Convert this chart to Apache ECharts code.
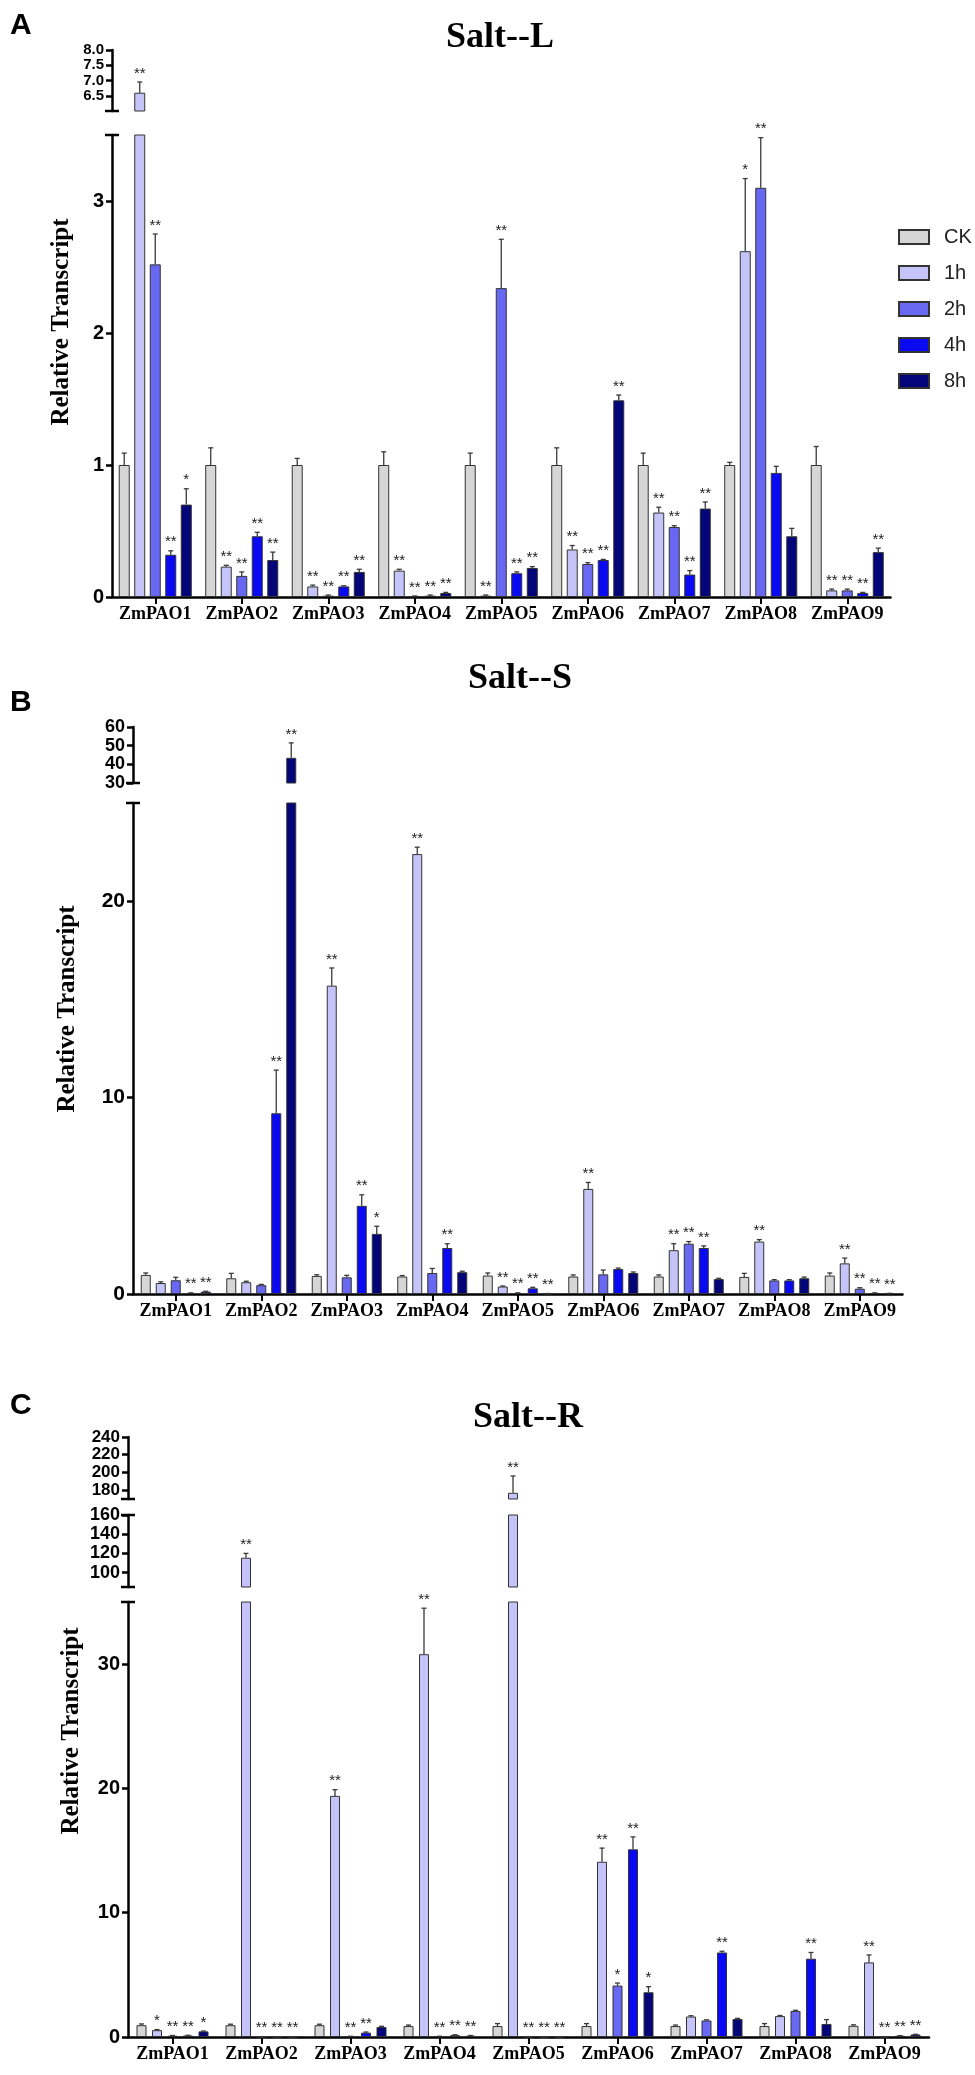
<!DOCTYPE html>
<html>
<head>
<meta charset="utf-8">
<script src="https://cdn.jsdelivr.net/npm/echarts@6/dist/echarts.min.js"></script>
<style>
html, body { margin: 0; padding: 0; background: #fff; }
#chart { width: 975px; height: 2075px; }
</style>
</head>
<body>
<div id="chart"></div>
<script>
var genes = ['ZmPAO1', 'ZmPAO2', 'ZmPAO3', 'ZmPAO4', 'ZmPAO5', 'ZmPAO6', 'ZmPAO7', 'ZmPAO8', 'ZmPAO9'];
var times = ['CK', '1h', '2h', '4h', '8h'];
var colors = ['#d6d6d6', '#c4c4f8', '#6868f2', '#0a0af2', '#05057a'];

// Salt--L
var lCK = [1.0, 1.0, 1.0, 1.0, 1.0, 1.0, 1.0, 1.0, 1.0];
var l1h = [6.6, 0.23, 0.08, 0.2, 0.01, 0.36, 0.64, 2.62, 0.05];
var l2h = [2.52, 0.16, 0.01, 0.005, 2.34, 0.25, 0.53, 3.1, 0.05];
var l4h = [0.32, 0.46, 0.08, 0.01, 0.18, 0.28, 0.17, 0.94, 0.03];
var l8h = [0.70, 0.28, 0.19, 0.03, 0.22, 1.49, 0.67, 0.46, 0.34];
var lCKErr = [0.09, 0.13, 0.05, 0.10, 0.09, 0.13, 0.09, 0.02, 0.14];
var l1hErr = [0.35, 0.01, 0.01, 0.01, 0.005, 0.03, 0.04, 0.55, 0.01];
var l2hErr = [0.23, 0.03, 0.005, 0.003, 0.37, 0.01, 0.01, 0.38, 0.01];
var l4hErr = [0.03, 0.03, 0.005, 0.005, 0.01, 0.005, 0.03, 0.05, 0.005];
var l8hErr = [0.12, 0.06, 0.02, 0.005, 0.01, 0.04, 0.05, 0.06, 0.03];
var lCKStar = [0, 0, 0, 0, 0, 0, 0, 0, 0];
var l1hStar = [2, 2, 2, 2, 2, 2, 2, 1, 2];
var l2hStar = [2, 2, 2, 2, 2, 2, 2, 2, 2];
var l4hStar = [2, 2, 2, 2, 2, 2, 2, 0, 2];
var l8hStar = [1, 2, 2, 2, 2, 2, 2, 0, 2];

// Salt--S
var sCK = [0.97, 0.8, 0.92, 0.89, 0.94, 0.89, 0.89, 0.87, 0.94];
var s1h = [0.56, 0.6, 15.7, 22.4, 0.38, 5.35, 2.23, 2.67, 1.56];
var s2h = [0.7, 0.45, 0.85, 1.07, 0.05, 1.0, 2.56, 0.69, 0.27];
var s4h = [0.05, 9.2, 4.49, 2.34, 0.29, 1.27, 2.34, 0.69, 0.05];
var s8h = [0.12, 43.5, 3.06, 1.11, 0.02, 1.07, 0.76, 0.8, 0.03];
var sCKErr = [0.1, 0.25, 0.06, 0.05, 0.13, 0.08, 0.08, 0.18, 0.13];
var s1hErr = [0.06, 0.05, 0.9, 0.35, 0.03, 0.33, 0.33, 0.1, 0.27];
var s2hErr = [0.15, 0.04, 0.1, 0.23, 0.01, 0.22, 0.11, 0.04, 0.05];
var s4hErr = [0.01, 2.2, 0.56, 0.22, 0.05, 0.05, 0.11, 0.04, 0.01];
var s8hErr = [0.02, 8, 0.39, 0.05, 0.005, 0.05, 0.04, 0.06, 0.005];
var sCKStar = [0, 0, 0, 0, 0, 0, 0, 0, 0];
var s1hStar = [0, 0, 2, 2, 2, 2, 2, 2, 2];
var s2hStar = [0, 0, 0, 0, 2, 0, 2, 0, 2];
var s4hStar = [2, 2, 2, 2, 2, 0, 2, 0, 2];
var s8hStar = [2, 2, 1, 0, 2, 0, 0, 0, 2];

// Salt--R
var rCK = [0.95, 0.95, 0.95, 0.88, 0.88, 0.88, 0.88, 0.88, 0.9];
var r1h = [0.55, 115.5, 19.4, 30.8, 177, 14.1, 1.65, 1.68, 6.0];
var r2h = [0.1, 0.01, 0.05, 0.05, 0.01, 4.14, 1.33, 2.1, 0.02];
var r4h = [0.12, 0.01, 0.35, 0.15, 0.01, 15.1, 6.8, 6.3, 0.1];
var r8h = [0.45, 0.01, 0.8, 0.1, 0.01, 3.6, 1.45, 1.05, 0.2];
var rCKErr = [0.1, 0.08, 0.08, 0.08, 0.2, 0.2, 0.08, 0.2, 0.08];
var r1hErr = [0.05, 4.5, 0.5, 3.7, 19, 1.1, 0.06, 0.05, 0.6];
var r2hErr = [0.02, 0.005, 0.01, 0.01, 0.005, 0.2, 0.05, 0.05, 0.005];
var r4hErr = [0.02, 0.005, 0.05, 0.03, 0.005, 1.0, 0.1, 0.5, 0.01];
var r8hErr = [0.03, 0.005, 0.06, 0.02, 0.005, 0.45, 0.05, 0.35, 0.02];
var rCKStar = [0, 0, 0, 0, 0, 0, 0, 0, 0];
var r1hStar = [1, 2, 2, 2, 2, 2, 0, 0, 2];
var r2hStar = [2, 2, 2, 2, 2, 1, 0, 0, 2];
var r4hStar = [2, 2, 2, 2, 2, 2, 2, 2, 2];
var r8hStar = [1, 2, 0, 2, 2, 1, 0, 0, 2];

var panels = [
	{
		title: 'Salt--L', titleX: 500, titleY: 38, letter: 'A', letterY: 26, nameX: 62, nameY: 322,
		left: 112, width: 778.5, barWidth: 11, barGap: '41%',
		values: [lCK, l1h, l2h, l4h, l8h],
		errors: [lCKErr, l1hErr, l2hErr, l4hErr, l8hErr],
		stars: [lCKStar, l1hStar, l2hStar, l4hStar, l8hStar],
		segs: [
			{ min: 6, max: 8, top: 50, bottom: 111, ticks: [6.5, 7, 7.5, 8], digits: 1, size: 15, lh: 13 },
			{ min: 0, max: 3.5, top: 135, bottom: 597, ticks: [0, 1, 2, 3], digits: 0, size: 20, lh: 20 }
		]
	},
	{
		title: 'Salt--S', titleX: 520, titleY: 679, letter: 'B', letterY: 703, nameX: 68, nameY: 1009,
		left: 133, width: 769.5, barWidth: 10, barGap: '50%',
		values: [sCK, s1h, s2h, s4h, s8h],
		errors: [sCKErr, s1hErr, s2hErr, s4hErr, s8hErr],
		stars: [sCKStar, s1hStar, s2hStar, s4hStar, s8hStar],
		segs: [
			{ min: 30, max: 60, top: 727, bottom: 783, ticks: [30, 40, 50, 60], digits: 0, size: 18, lh: 16 },
			{ min: 0, max: 25, top: 803, bottom: 1294, ticks: [0, 10, 20], digits: 0, size: 21, lh: 21 }
		]
	},
	{
		title: 'Salt--R', titleX: 528, titleY: 1418, letter: 'C', letterY: 1406, nameX: 72, nameY: 1731,
		left: 128, width: 801, barWidth: 10, barGap: '55%',
		values: [rCK, r1h, r2h, r4h, r8h],
		errors: [rCKErr, r1hErr, r2hErr, r4hErr, r8hErr],
		stars: [rCKStar, r1hStar, r2hStar, r4hStar, r8hStar],
		segs: [
			{ min: 170, max: 240, top: 1437, bottom: 1499, ticks: [180, 200, 220, 240], digits: 0, size: 17, lh: 14 },
			{ min: 85, max: 160, top: 1515, bottom: 1587, ticks: [100, 120, 140, 160], digits: 0, size: 18, lh: 16 },
			{ min: 0, max: 35, top: 1602, bottom: 2037, ticks: [0, 10, 20, 30], digits: 0, size: 20, lh: 20 }
		]
	}
];

var grids = [], xAxes = [], yAxes = [], series = [], graphics = [];

function makeErrRender(step) {
	return function(params, api) {
		var c = api.value(0), s = api.value(1), v = api.value(2), e = api.value(3), st = api.value(4);
		var cs = params.coordSys;
		var y0 = cs.y, y1 = cs.y + cs.height;
		var base = api.coord([c, v]);
		var top = api.coord([c, v + e]);
		var x = base[0] + (s - 2) * step;
		var kids = [];
		var style = { stroke: '#3a3a3a', lineWidth: 1.3 };
		if (e > 0 && top[1] <= y1 && base[1] >= y0) {
			var ya = Math.min(base[1], y1), yb = Math.max(top[1], y0);
			kids.push({ type: 'line', shape: { x1: x, y1: ya, x2: x, y2: yb }, style: style });
			if (top[1] >= y0) {
				kids.push({ type: 'line', shape: { x1: x - 2.5, y1: top[1], x2: x + 2.5, y2: top[1] }, style: style });
			}
		}
		if (st > 0 && top[1] >= y0 - 1 && top[1] <= y1 + 1) {
			kids.push({
				type: 'text',
				style: {
					x: x, y: top[1] - 1, text: st === 2 ? '**' : '*',
					textAlign: 'center', textVerticalAlign: 'bottom',
					fontFamily: 'Liberation Sans', fontSize: 15, fill: '#222'
				}
			});
		}
		return { type: 'group', children: kids };
	};
}

panels.forEach(function(p) {
	var bw = p.barWidth;
	var step = bw * (1 + parseFloat(p.barGap) / 100);
	var errData = [];
	for (var s = 0; s < 5; s++) {
		for (var c = 0; c < genes.length; c++) {
			errData.push([c, s, p.values[s][c], p.errors[s][c], p.stars[s][c]]);
		}
	}
	p.segs.forEach(function(seg, k) {
		var gi = grids.length;
		var last = k === p.segs.length - 1;
		grids.push({ left: p.left, top: seg.top, width: p.width, height: seg.bottom - seg.top });
		xAxes.push({
			type: 'category', gridIndex: gi, data: genes, show: last,
			axisLine: { show: last, lineStyle: { color: '#000', width: 2.5 } },
			axisTick: { show: last, alignWithLabel: true, length: 7, lineStyle: { color: '#000', width: 2 } },
			axisLabel: {
				show: last, interval: 0, margin: 8, color: '#000', fontFamily: 'Liberation Serif',
				fontWeight: 'bold', fontSize: 18
			}
		});
		yAxes.push({
			type: 'value', gridIndex: gi, min: seg.min, max: seg.max,
			splitLine: { show: false },
			axisLine: { show: true, lineStyle: { color: '#000', width: 2.5 } },
			axisTick: { show: true, length: 6, customValues: seg.ticks, lineStyle: { color: '#000', width: 2.5 } },
			axisLabel: {
				customValues: seg.ticks, showMinLabel: true, showMaxLabel: true, hideOverlap: false,
				margin: 8, color: '#000', fontFamily: 'Liberation Sans',
				fontWeight: 'bold', fontSize: seg.size, lineHeight: seg.lh,
				formatter: function(v) { return v.toFixed(seg.digits); }
			}
		});
		for (var s = 0; s < 5; s++) {
			series.push({
				name: times[s], type: 'bar', xAxisIndex: gi, yAxisIndex: gi,
				data: p.values[s], barWidth: bw, barGap: p.barGap, clip: true,
				itemStyle: { color: colors[s], borderColor: '#333', borderWidth: 1 },
				emphasis: { disabled: true }
			});
		}
		series.push({
			type: 'custom', xAxisIndex: gi, yAxisIndex: gi, data: errData,
			encode: { x: 0, y: 2 }, renderItem: makeErrRender(step), z: 5, silent: true
		});
		// axis break marks
		if (!last) {
			graphics.push({ type: 'line', shape: { x1: p.left - 7, y1: seg.bottom, x2: p.left + 7, y2: seg.bottom }, style: { stroke: '#000', lineWidth: 2.5 } });
		}
		if (k > 0) {
			graphics.push({ type: 'line', shape: { x1: p.left - 7, y1: seg.top, x2: p.left + 7, y2: seg.top }, style: { stroke: '#000', lineWidth: 2.5 } });
		}
	});
	graphics.push({
		type: 'text', x: p.titleX, y: p.titleY,
		style: { text: p.title, textAlign: 'center', textVerticalAlign: 'middle', fontFamily: 'Liberation Serif', fontWeight: 'bold', fontSize: 36, fill: '#000' }
	});
	graphics.push({
		type: 'text', x: 10, y: p.letterY,
		style: { text: p.letter, textAlign: 'left', textVerticalAlign: 'middle', fontFamily: 'Liberation Sans', fontWeight: 'bold', fontSize: 30, fill: '#000' }
	});
	graphics.push({
		type: 'text', x: p.nameX, y: p.nameY, rotation: Math.PI / 2,
		style: { text: 'Relative Transcript', textAlign: 'center', textVerticalAlign: 'middle', fontFamily: 'Liberation Serif', fontWeight: 'bold', fontSize: 25, fill: '#000' }
	});
});

var myChart = echarts.init(document.getElementById('chart'));
var option = {
	animation: false,
	backgroundColor: '#fff',
	legend: {
		data: times, orient: 'vertical', left: 893, top: 222,
		itemWidth: 30, itemHeight: 14, itemGap: 16, selectedMode: false,
		icon: 'rect',
		textStyle: { fontFamily: 'Liberation Sans', fontSize: 20, color: '#222', padding: [0, 0, 0, 10] }
	},
	grid: grids,
	xAxis: xAxes,
	yAxis: yAxes,
	series: series,
	graphic: graphics
};
myChart.setOption(option);
</script>
</body>
</html>
